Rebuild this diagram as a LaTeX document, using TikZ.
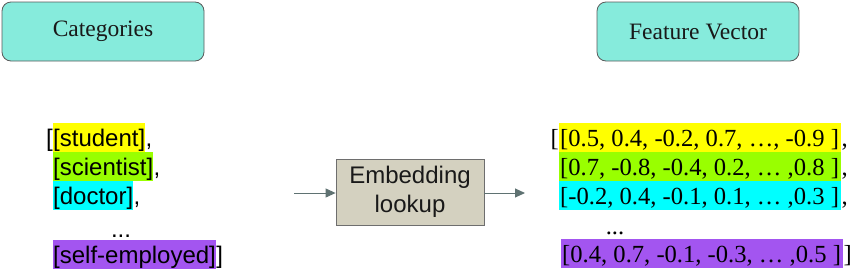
\documentclass[tikz,border=0pt]{standalone}
\usepackage{fontspec}
\setmainfont{Liberation Serif}
\newfontfamily\arial{Liberation Sans}
\usetikzlibrary{arrows.meta}
\definecolor{turq}{HTML}{86EBDC}
\definecolor{boxline}{HTML}{5A5A5A}
\definecolor{embfill}{HTML}{D4D1C0}
\definecolor{embline}{HTML}{6E6E6E}
\definecolor{arrowc}{HTML}{5F7272}
\definecolor{hlyellow}{HTML}{FFFF00}
\definecolor{hlgreen}{HTML}{99FF00}
\definecolor{hlcyan}{HTML}{00FFFF}
\definecolor{hlpurple}{HTML}{A355F0}
\newcommand{\rowbox}[1]{\makebox[280pt][l]{#1}}
\begin{document}
\begin{tikzpicture}[x=1pt,y=-1pt,
  title/.style={draw=boxline, line width=0.8pt, fill=turq, rounded corners=9pt, minimum width=202pt, minimum height=59pt, font=\fontsize{23.5}{26}\selectfont, text=black!90},
  lhl/.style={inner xsep=0pt, inner ysep=0pt, text height=23pt, text depth=6pt, font=\arial\fontsize{24}{29}\selectfont, anchor=base west},
  lplain/.style={inner sep=0pt, font=\arial\fontsize{24}{29}\selectfont},
  rhl/.style={inner xsep=1pt, inner ysep=0pt, text height=23pt, text depth=6pt, font=\fontsize{24.6}{29}\selectfont, anchor=base west},
  rplain/.style={inner sep=0pt, font=\fontsize{24.6}{29}\selectfont},
  conn/.style={draw=arrowc, line width=1pt, -{Triangle[length=10pt,width=9pt]}},
]
\useasboundingbox (0,0) rectangle (850,271);

\node[title] (cat) at (103,31.5) {Categories};
\node[title] (fv) at (698,31.5) {Feature Vector};

% left list
\node[lhl, fill=hlyellow] (l1) at (53,146) {[student]};
\node[lplain, anchor=base east] (l1o) at (l1.base west) {[};
\node[lplain, anchor=base west] (l1c) at (l1.base east) {,};
\node[lhl, fill=hlgreen] (l2) at (53,175) {[scientist]};
\node[lplain, anchor=base west] (l2c) at (l2.base east) {,};
\node[lhl, fill=hlcyan] (l3) at (53,204) {[doctor]};
\node[lplain, anchor=base west] (l3c) at (l3.base east) {,};
\node[lplain, anchor=base] (ld) at (121,237) {...};
\node[lhl, fill=hlpurple] (l5) at (53,263) {[self-employed]};
\node[lplain, anchor=base west] (l5c) at (l5.base east) {]};

% embedding
\node[draw=embline, line width=0.8pt, fill=embfill, minimum width=148pt, minimum height=66pt, align=center, font=\arial\fontsize{24}{29}\selectfont, text=black!90] (emb) at (410,192) {Embedding\\lookup};
\coordinate (ain) at (294,193);
\coordinate (aout) at (525,193);
\draw[conn] (ain) -- (emb.west |- ain);
\draw[conn] (emb.east |- aout) -- (aout);

% right list
\node[rhl, fill=hlyellow] (r1) at (559,146) {\rowbox{[0.5, 0.4, -0.2, 0.7, …, -0.9 ]}};
\node[rplain, anchor=base east] (r1o) at (r1.base west) {[};
\node[rplain, anchor=base west] (r1c) at (r1.base east) {,};
\node[rhl, fill=hlgreen] (r2) at (559,175) {\rowbox{[0.7, -0.8, -0.4, 0.2, … ,0.8 ]}};
\node[rplain, anchor=base west] (r2c) at (r2.base east) {,};
\node[rhl, fill=hlcyan] (r3) at (559,204) {\rowbox{[-0.2, 0.4, -0.1, 0.1, … ,0.3 ]}};
\node[rplain, anchor=base west] (r3c) at (r3.base east) {,};
\node[rplain, anchor=base] (rd) at (615,234) {...};
\node[rhl, fill=hlpurple] (r5) at (561,262) {\rowbox{[0.4, 0.7, -0.1, -0.3, … ,0.5 ]}};
\node[rplain, anchor=base west] (r5c) at (r5.base east) {]};
\end{tikzpicture}
\end{document}
